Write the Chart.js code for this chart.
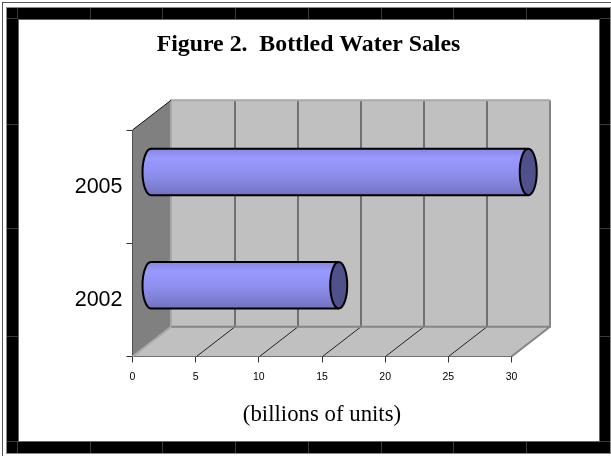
<!DOCTYPE html>
<html>
<head>
<meta charset="utf-8">
<style>html,body{margin:0;padding:0;background:#fff}canvas{display:block}</style>
<script src="https://cdn.jsdelivr.net/npm/chart.js@4"></script>
</head>
<body>
<canvas id="c" width="611" height="456"></canvas>
<script>
const years = ['2005', '2002'];
const sales = [29.9, 14.9];
const xTicks = [0, 5, 10, 15, 20, 25, 30];
const chartTitle = 'Figure 2.  Bottled Water Sales';
const unitLabel = '(billions of units)';

// Box depth of the pseudo-3D plot, and how far bars sit into that depth.
const DEPTH = { x: 38.5, y: -29.75 };
const BAR_SHIFT = { x: 18, y: -14.6 };
const BAR_HEIGHT = 46.5;
const CAP_RX = 8.5;

function barGradient(ctx, top, bottom) {
  const g = ctx.createLinearGradient(0, top, 0, bottom);
  g.addColorStop(0, '#8686E2');
  g.addColorStop(0.2, '#9999FF');
  g.addColorStop(0.5, '#9090F0');
  g.addColorStop(0.75, '#8282DA');
  g.addColorStop(1, '#7272C0');
  return g;
}

const framePlugin = {
  id: 'frame',
  beforeDraw(chart) {
    const c = chart.ctx;
    c.save();
    c.fillStyle = '#fff';
    c.fillRect(0, 0, 611, 456);
    c.strokeStyle = '#555';
    c.lineWidth = 1;
    c.strokeRect(2.5, 2.5, 612, 612);
    c.fillStyle = '#000';
    c.fillRect(7, 8, 603, 11);
    c.fillRect(7, 442, 603, 11);
    c.fillRect(7, 8, 11, 445);
    c.fillRect(599.5, 8, 10.5, 445);
    c.strokeStyle = '#8a8a8a';
    c.strokeRect(6.5, 7.5, 604, 446);
    c.strokeStyle = '#666';
    c.strokeRect(18.5, 19.5, 581, 422);
    // Faint sheet rules showing through the black border.
    c.strokeStyle = '#3a3a3a';
    c.beginPath();
    for (const x of [17.5, 90.5, 162.5, 235.5, 308.5, 381.5, 453.5, 526.5]) {
      c.moveTo(x, 8); c.lineTo(x, 19);
      c.moveTo(x, 442); c.lineTo(x, 453);
    }
    for (const y of [18.5, 124.5, 228.5, 336.5, 441.5]) {
      c.moveTo(7, y); c.lineTo(18, y);
      c.moveTo(600, y); c.lineTo(610, y);
    }
    c.stroke();
    c.restore();
  }
};

const boxPlugin = {
  id: 'box3d',
  beforeDatasetsDraw(chart) {
    const c = chart.ctx, a = chart.chartArea, xs = chart.scales.x;
    const d = DEPTH;
    c.save();
    // side wall
    c.fillStyle = '#808080';
    c.beginPath();
    c.moveTo(a.left, a.top); c.lineTo(a.left + d.x, a.top + d.y);
    c.lineTo(a.left + d.x, a.bottom + d.y); c.lineTo(a.left, a.bottom);
    c.closePath(); c.fill();
    // floor
    c.fillStyle = '#C0C0C0';
    c.beginPath();
    c.moveTo(a.left, a.bottom); c.lineTo(a.left + d.x, a.bottom + d.y);
    c.lineTo(a.right + d.x, a.bottom + d.y); c.lineTo(a.right, a.bottom);
    c.closePath(); c.fill();
    // back wall
    c.fillRect(a.left + d.x, a.top + d.y, a.right - a.left, a.bottom - a.top);
    // gridlines on wall and floor
    c.strokeStyle = '#222';
    c.lineWidth = 1;
    c.beginPath();
    for (const v of xTicks.slice(1, -1)) {
      const x = Math.round(xs.getPixelForValue(v)) + 0.5;
      c.moveTo(x + d.x, a.top + d.y); c.lineTo(x + d.x, a.bottom + d.y);
      c.moveTo(x, a.bottom); c.lineTo(x + d.x, a.bottom + d.y);
    }
    c.stroke();
    // wall outline
    c.strokeStyle = '#858585';
    c.lineWidth = 2;
    c.beginPath();
    c.moveTo(a.left + d.x, a.bottom + d.y);
    c.lineTo(a.right + d.x, a.bottom + d.y);
    c.lineTo(a.right + d.x, a.top + d.y);
    c.moveTo(a.right + d.x, a.bottom + d.y);
    c.lineTo(a.right, a.bottom);
    c.stroke();
    c.strokeStyle = '#A8A8A8';
    c.beginPath();
    c.moveTo(a.left + d.x, a.bottom + d.y);
    c.lineTo(a.left + d.x, a.top + d.y);
    c.lineTo(a.right + d.x, a.top + d.y);
    c.moveTo(a.left + d.x, a.bottom + d.y);
    c.lineTo(a.left, a.bottom);
    c.stroke();
    // top edge of the side wall
    c.strokeStyle = '#111';
    c.lineWidth = 1;
    c.beginPath();
    c.moveTo(a.left, a.top); c.lineTo(a.left + d.x, a.top + d.y);
    c.stroke();
    // the bars below are drawn set back into the box
    c.translate(BAR_SHIFT.x, BAR_SHIFT.y);
  },
  afterDatasetsDraw(chart) {
    const c = chart.ctx;
    // outlines and rounded ends, still inside the translated space
    for (const bar of chart.getDatasetMeta(0).data) {
      const top = bar.y - BAR_HEIGHT / 2, bottom = bar.y + BAR_HEIGHT / 2;
      c.lineWidth = 2;
      c.strokeStyle = '#000';
      c.fillStyle = barGradient(c, top, bottom);
      c.beginPath();
      c.moveTo(bar.base + 1, top);
      c.ellipse(bar.base, bar.y, CAP_RX, BAR_HEIGHT / 2, 0, -Math.PI / 2, Math.PI / 2, true);
      c.fill();
      c.stroke();
      c.beginPath();
      c.moveTo(bar.base, top); c.lineTo(bar.x, top);
      c.moveTo(bar.base, bottom); c.lineTo(bar.x, bottom);
      c.stroke();
      c.fillStyle = '#50508A';
      c.beginPath();
      c.ellipse(bar.x, bar.y, CAP_RX, BAR_HEIGHT / 2, 0, 0, Math.PI * 2);
      c.fill();
      c.stroke();
    }
    c.restore();
  }
};

new Chart(document.getElementById('c'), {
  type: 'bar',
  plugins: [framePlugin, boxPlugin],
  data: {
    labels: years,
    datasets: [{
      data: sales,
      barThickness: BAR_HEIGHT,
      borderWidth: 0,
      backgroundColor(ctx) {
        const ys = ctx.chart.scales.y;
        const mid = ys ? ys.getPixelForValue(ctx.dataIndex) : NaN;
        if (!Number.isFinite(mid)) return '#9090F0';
        return barGradient(ctx.chart.ctx, mid - BAR_HEIGHT / 2, mid + BAR_HEIGHT / 2);
      }
    }]
  },
  options: {
    indexAxis: 'y',
    responsive: false,
    animation: false,
    layout: { padding: { left: 6, right: 0, top: 0, bottom: 0 } },
    plugins: {
      legend: { display: false },
      tooltip: { enabled: false },
      title: {
        display: true,
        text: chartTitle,
        color: '#000',
        font: { family: '"Liberation Serif"', size: 23.8, weight: 'bold', lineHeight: 1.2 },
        padding: { top: 30.5, bottom: 70.94 }
      }
    },
    scales: {
      x: {
        type: 'linear',
        min: 0,
        max: 30,
        afterBuildTicks(s) { s.ticks = xTicks.map(v => ({ value: v })); },
        afterFit(s) { s.height = 99.5; },
        grid: { drawOnChartArea: false, drawTicks: true, tickLength: 6, color: '#333' },
        border: { color: '#222', width: 1 },
        ticks: { color: '#000', font: { family: '"Liberation Sans"', size: 10.5 }, padding: 8, maxRotation: 0 },
        title: {
          display: true,
          text: unitLabel,
          color: '#000',
          font: { family: '"Liberation Serif"', size: 22.8, lineHeight: 1.2 },
          padding: { top: 0, bottom: 27.3 }
        }
      },
      y: {
        type: 'category',
        afterFit(s) { s.width = 126.5; },
        grid: { offset: true, drawOnChartArea: false, drawTicks: true, tickLength: 6, color: '#333' },
        border: { color: '#222', width: 1 },
        ticks: { color: '#000', font: { family: '"Liberation Sans"', size: 21.5 }, padding: 4 }
      },
      // Empty right-hand axis: reserves the margin beside the box.
      gutter: {
        type: 'linear',
        position: 'right',
        afterFit(s) { s.width = 99.5; },
        grid: { display: false },
        border: { display: false },
        ticks: { display: false }
      }
    }
  }
});
</script>
</body>
</html>
